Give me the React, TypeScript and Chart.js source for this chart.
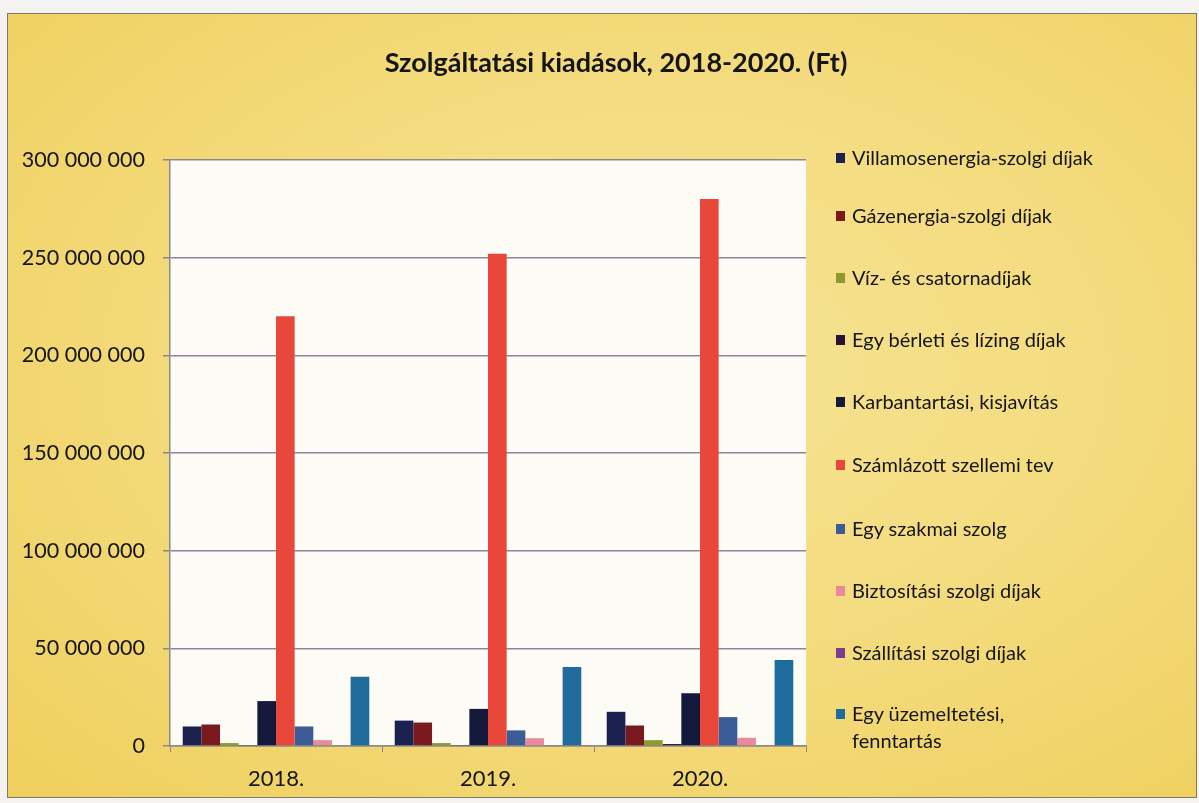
import React, { useEffect, useRef } from "react";
import { Chart, registerables } from "chart.js";

Chart.register(...registerables);

const categories = ["2018.", "2019.", "2020."];
const seriesNames = [
  "Villamosenergia-szolgi díjak",
  "Gázenergia-szolgi díjak",
  "Víz- és csatornadíjak",
  "Egy bérleti és lízing díjak",
  "Karbantartási, kisjavítás",
  "Számlázott szellemi tev",
  "Egy szakmai szolg",
  "Biztosítási szolgi díjak",
  "Szállítási szolgi díjak",
  "Egy üzemeltetési, fenntartás",
];
const villamos = [10000000, 13000000, 17500000];
const gaz = [11000000, 12000000, 10500000];
const viz = [1500000, 1500000, 3000000];
const berleti = [500000, 500000, 1000000];
const karbantartasi = [23000000, 19000000, 27000000];
const szamlazott = [220000000, 252000000, 280000000];
const szakmai = [10000000, 8000000, 14800000];
const biztositasi = [3000000, 4000000, 4200000];
const szallitasi = [0, 0, 0];
const uzemeltetesi = [35500000, 40500000, 44000000];
const seriesValues = [villamos, gaz, viz, berleti, karbantartasi, szamlazott, szakmai, biztositasi, szallitasi, uzemeltetesi];
const seriesColors = ["#1c2150", "#7a1a1e", "#8d9a2c", "#2a1230", "#151a3c", "#e8473a", "#3c5c98", "#e98a9c", "#7b3d8c", "#1f6b9c"];
const yTicks = [0, 50000000, 100000000, 150000000, 200000000, 250000000, 300000000];
const title = "Szolgáltatási kiadások, 2018-2020. (Ft)";

const fmt = (v: number) => String(Math.round(v)).replace(/\B(?=(\d{3})+(?!\d))/g, " ");

const plotBg = {
  id: "plotBg",
  beforeDraw(chart: any) {
    const { ctx, chartArea } = chart;
    ctx.save();
    ctx.fillStyle = "#fcfbf6";
    ctx.fillRect(chartArea.left, chartArea.top, chartArea.right - chartArea.left, chartArea.bottom - chartArea.top);
    ctx.restore();
  },
};

export default function App() {
  const ref = useRef<HTMLCanvasElement>(null);
  useEffect(() => {
    if (!ref.current) return;
    const chart = new Chart(ref.current, {
      type: "bar",
      data: {
        labels: categories,
        datasets: seriesNames.map((n, i) => ({
          label: n,
          data: seriesValues[i],
          backgroundColor: seriesColors[i],
          borderWidth: 0,
          categoryPercentage: 0.88,
          barPercentage: 1.0,
        })),
      },
      options: {
        animation: false,
        responsive: false,
        maintainAspectRatio: false,
        layout: { padding: { left: 0, right: 393, top: 160, bottom: 7 } },
        plugins: { legend: { display: false }, title: { display: false }, tooltip: { enabled: false } },
        scales: {
          x: {
            afterFit: (s: any) => { s.height = 50; },
            grid: { offset: true, drawOnChartArea: false, tickLength: 6, color: "#8a8a8a" },
            border: { color: "#8a8a8a", width: 1.5 },
            ticks: { color: "#151515", font: { family: "Lato", size: 22 }, padding: 14 },
          },
          y: {
            min: 0,
            max: 300000000,
            afterFit: (s: any) => { s.width = 170; },
            afterBuildTicks: (s: any) => { s.ticks = yTicks.map((v) => ({ value: v })); },
            grid: { color: "#8e8498", lineWidth: 1.5, tickLength: 7, drawTicks: true },
            border: { color: "#8a8a8a", width: 1.5 },
            ticks: { color: "#151515", font: { family: "Lato", size: 21.5 }, padding: 18, callback: (v: any) => fmt(Number(v)) },
          },
        },
      },
      plugins: [plotBg],
    });
    return () => chart.destroy();
  }, []);

  const legendY = [157, 215, 277, 339, 401, 464, 528, 590, 652, 713];
  return (
    <div style={{ position: "fixed", left: 0, top: 0, width: 1199, height: 803, background: "#f4f3f1", overflow: "hidden", fontFamily: "Lato" }}>
      <div
        style={{
          position: "absolute",
          left: 7,
          top: 13,
          width: 1188,
          height: 783,
          border: "1px solid #7d7a6a",
          background: "radial-gradient(ellipse at 55% 45%, #f6e394 0%, #f4dc80 45%, #efcf5c 100%)",
        }}
      />
      <canvas ref={ref} width={1199} height={803} style={{ position: "absolute", left: 0, top: 0 }} />
      <div style={{ position: "absolute", left: 0, top: 45, width: 1232, textAlign: "center", fontSize: 27, fontWeight: 700, color: "#151515", whiteSpace: "nowrap" }}>
        {title}
      </div>
      {seriesNames.map((n, i) => {
        const last = i === seriesNames.length - 1;
        return (
          <div key={n} style={{ position: "absolute", left: 836, top: legendY[i] - 13.5, display: "flex", alignItems: "flex-start", fontSize: 20, color: "#151515", lineHeight: "27px", whiteSpace: "nowrap" }}>
            <div style={{ width: 9, height: 10, background: seriesColors[i], marginTop: 9, marginRight: 7 }} />
            <div>
              {last ? (
                <>
                  Egy üzemeltetési,
                  <br />
                  fenntartás
                </>
              ) : (
                n
              )}
            </div>
          </div>
        );
      })}
    </div>
  );
}
